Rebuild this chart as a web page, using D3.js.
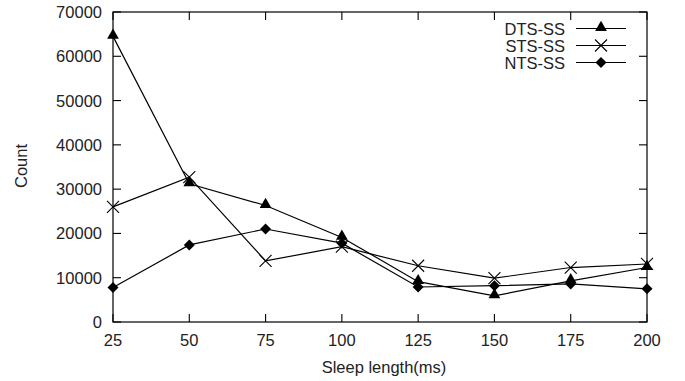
<!DOCTYPE html>
<html>
<head>
<meta charset="utf-8">
<script src="https://cdn.jsdelivr.net/npm/d3@7"></script>
<style>
  body { margin: 0; background: #fff; }
  svg { font-family: "Liberation Sans", Arial, sans-serif; }
</style>
</head>
<body>
<svg id="chart" width="685" height="381"></svg>
<script>
// data
var sleepLen = [25, 50, 75, 100, 125, 150, 175, 200];
var dts = [64500, 31200, 26300, 19100, 9100, 5900, 9300, 12300];
var sts = [26000, 32700, 13800, 17000, 12700, 9900, 12300, 13100];
var nts = [7800, 17400, 21000, 17800, 7900, 8200, 8600, 7500];
var yTicks = [0, 10000, 20000, 30000, 40000, 50000, 60000, 70000];
var seriesNames = ["DTS-SS", "STS-SS", "NTS-SS"];

var svg = d3.select("#chart"),
    margin = {top: 12, right: 38, bottom: 59, left: 113},
    width = 685 - margin.left - margin.right,
    height = 381 - margin.top - margin.bottom;

var x = d3.scaleLinear().domain([25, 200]).range([margin.left, margin.left + width]);
var y = d3.scaleLinear().domain([0, 70000]).range([margin.top + height, margin.top]);

var tick = 8;

// ticks (gnuplot style, inward on all sides)
var g = svg.append("g").attr("stroke", "#000").attr("stroke-width", 1.1);
sleepLen.forEach(function(d) {
  g.append("line").attr("x1", x(d)).attr("x2", x(d)).attr("y1", y(0)).attr("y2", y(0) - tick);
  g.append("line").attr("x1", x(d)).attr("x2", x(d)).attr("y1", y(70000)).attr("y2", y(70000) + tick);
});
yTicks.forEach(function(d) {
  g.append("line").attr("x1", x(25)).attr("x2", x(25) + tick).attr("y1", y(d)).attr("y2", y(d));
  g.append("line").attr("x1", x(200)).attr("x2", x(200) - tick).attr("y1", y(d)).attr("y2", y(d));
});

svg.append("rect")
  .attr("x", margin.left).attr("y", margin.top)
  .attr("width", width).attr("height", height)
  .attr("fill", "none").attr("stroke", "#000").attr("stroke-width", 1.2);

// tick labels
svg.append("g").selectAll("text").data(sleepLen).enter().append("text")
  .attr("x", function(d) { return x(d); })
  .attr("y", y(0) + 24)
  .attr("text-anchor", "middle")
  .attr("font-size", 16.5)
  .attr("fill", "#222")
  .text(function(d) { return d; });

svg.append("g").selectAll("text").data(yTicks).enter().append("text")
  .attr("x", margin.left - 11)
  .attr("y", function(d) { return y(d) + 6; })
  .attr("text-anchor", "end")
  .attr("font-size", 16.5)
  .attr("fill", "#222")
  .text(function(d) { return d; });

// axis titles
svg.append("text")
  .attr("x", 384).attr("y", 373)
  .attr("text-anchor", "middle")
  .attr("font-size", 16.5)
  .attr("fill", "#222")
  .text("Sleep length(ms)");

svg.append("text")
  .attr("transform", "translate(27,166) rotate(-90)")
  .attr("text-anchor", "middle")
  .attr("font-size", 16.5)
  .attr("fill", "#222")
  .text("Count");

// markers
function triangle(sel, cx, cy) {
  sel.append("path").attr("d", d3.symbol(d3.symbolTriangle, 60)())
    .attr("transform", "translate(" + cx + "," + (cy - 1) + ")")
    .attr("fill", "#000");
}
function cross(sel, cx, cy) {
  var r = 6;
  sel.append("path")
    .attr("d", "M" + (cx - r) + "," + (cy - r) + "L" + (cx + r) + "," + (cy + r) +
               "M" + (cx - r) + "," + (cy + r) + "L" + (cx + r) + "," + (cy - r))
    .attr("stroke", "#000").attr("stroke-width", 1.1).attr("fill", "none");
}
function diamond(sel, cx, cy) {
  var r = 5.5;
  sel.append("path")
    .attr("d", "M" + cx + "," + (cy - r) + "L" + (cx + r) + "," + cy + "L" + cx + "," + (cy + r) + "L" + (cx - r) + "," + cy + "Z")
    .attr("fill", "#000");
}

var allSeries = [
  {name: seriesNames[0], values: dts, mark: triangle},
  {name: seriesNames[1], values: sts, mark: cross},
  {name: seriesNames[2], values: nts, mark: diamond}
];

var line = d3.line()
  .x(function(d, i) { return x(sleepLen[i]); })
  .y(function(d) { return y(d); });

allSeries.forEach(function(s, k) {
  var sg = svg.append("g");
  sg.append("path").attr("d", line(s.values))
    .attr("fill", "none").attr("stroke", "#000").attr("stroke-width", 1.2);
  s.values.forEach(function(v, i) { s.mark(sg, x(sleepLen[i]), y(v)); });

  // legend
  var ly = 28.5 + k * 17;
  sg.append("text")
    .attr("x", 565).attr("y", ly + 6)
    .attr("text-anchor", "end")
    .attr("font-size", 16.5)
    .attr("fill", "#222")
    .text(s.name);
  sg.append("line").attr("x1", 576).attr("x2", 626).attr("y1", ly).attr("y2", ly)
    .attr("stroke", "#000").attr("stroke-width", 1.2);
  s.mark(sg, 601, ly);
});
</script>
</body>
</html>
